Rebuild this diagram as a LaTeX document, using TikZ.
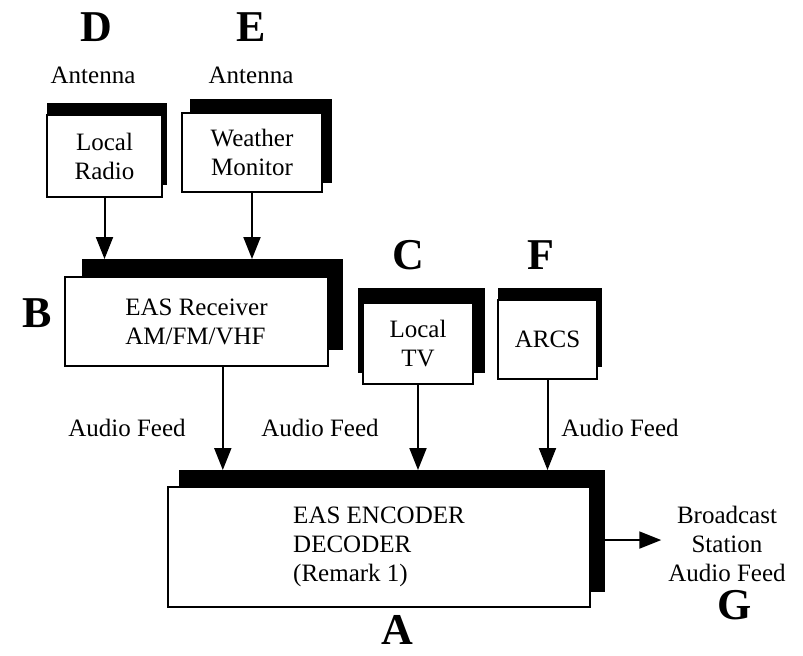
\documentclass[tikz,border=0pt]{standalone}
\usepackage{fontspec}
\setmainfont{Liberation Serif}
\usetikzlibrary{arrows.meta,positioning,calc}
\tikzset{
  >={Triangle[length=11pt,width=8.5pt]},
  every node/.style={font=\fontsize{12.5}{14.5}\selectfont,text=black},
  panel/.style={draw=black,line width=0.8pt,fill=white,align=center,inner sep=0pt,outer sep=0pt},
  panelsh/.style={fill=black,inner sep=0pt,outer sep=0pt},
  tag/.style={font=\fontsize{22}{22}\selectfont\bfseries,inner sep=0pt},
  feed/.style={->,line width=1pt},
}

\begin{document}
\begin{tikzpicture}[x=0.5pt,y=-0.5pt]
  \useasboundingbox (0,0) rectangle (803,655);

  % antenna sources
  \node[tag] (d) at (96,27) {D};
  \node (dant) at (93,75) {Antenna};
  \node[panelsh,minimum width=60pt,minimum height=41pt] (radiosh) at (107,144) {};
  \node[panel,minimum width=57.5pt,minimum height=41pt] (radio) at (104.5,156) {Local\\Radio};

  \node[tag] (e) at (251,27) {E};
  \node (eant) at (251,75) {Antenna};
  \node[panelsh,minimum width=71pt,minimum height=42pt] (weathersh) at (261,141) {};
  \node[panel,minimum width=70pt,minimum height=39.5pt] (weather) at (252,152.5) {Weather\\Monitor};

  % receiver
  \node[tag] (b) at (37,313) {B};
  \node[panelsh,minimum width=130.5pt,minimum height=45.5pt] (recvsh) at (212.5,304.5) {};
  \node[panel,align=left,minimum width=131.5pt,minimum height=44.5pt] (recv) at (196.5,321.5) {EAS Receiver\\AM/FM/VHF};
  \draw[feed] (radio.south) -- (radio.south |- recvsh.north);
  \draw[feed] (weather.south) -- (weather.south |- recvsh.north);

  % other inputs
  \node[tag] (c) at (408,255) {C};
  \node[panelsh,minimum width=63.5pt,minimum height=42.5pt] (tvsh) at (421.5,330.5) {};
  \node[panel,minimum width=55pt,minimum height=40.5pt] (tv) at (418,343.5) {Local\\TV};

  \node[tag] (f) at (541,255) {F};
  \node[panelsh,minimum width=52pt,minimum height=39.5pt] (arcssh) at (550,327.5) {};
  \node[panel,minimum width=49.5pt,minimum height=39.5pt] (arcs) at (547.5,339.5) {ARCS};

  % encoder
  \node[panelsh,minimum width=213pt,minimum height=61pt] (encsh) at (392,531) {};
  \node[panel,align=left,minimum width=211pt,minimum height=60pt] (enc) at (379,547) {EAS ENCODER\\DECODER\\(Remark 1)};
  \node[tag] (a) at (397,630) {A};

  \node (feed1) at (127,428) {Audio Feed};
  \node (feed2) at (320,428) {Audio Feed};
  \node (feed3) at (620,428) {Audio Feed};
  \draw[feed] ($(recv.south west)!0.6!(recv.south east)$) coordinate (rxout) -- (rxout |- encsh.north);
  \draw[feed] (tv.south) -- (tv.south |- encsh.north);
  \draw[feed] (arcs.south) -- (arcs.south |- encsh.north);

  % output
  \node[align=center] (bcast) at (727,544) {Broadcast\\Station\\Audio Feed};
  \node[tag] (g) at (735,605) {G};
  \draw[feed] ($(encsh.north east)!0.574!(encsh.south east)$) coordinate (txout) -- (txout -| bcast.west);
\end{tikzpicture}
\end{document}
